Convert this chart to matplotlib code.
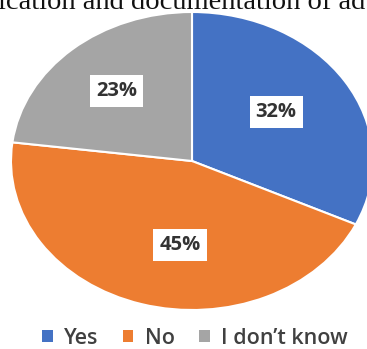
import numpy as np
import matplotlib
matplotlib.use("Agg")
import matplotlib.pyplot as plt
from matplotlib.patches import Patch

categories = ["Yes", "No", "I don\u2019t know"]
shares = [32, 45, 23]
colors = ["#4472C4", "#ED7D31", "#A5A5A5"]

W, H = 367, 349
fig = plt.figure(figsize=(W / 100, H / 100), dpi=100)

# caption line from the surrounding page, clipped at the top edge
fig.text(-2 / W, 1 - 9 / H, "ication and documentation of ad",
         family="Liberation Serif", fontsize=20.5, color="#111111",
         ha="left", va="baseline")

# elliptical pie: the axes box is wider than tall
ax = fig.add_axes([11 / W, 1 - 310 / H, 362 / W, 298 / H])
wedges, _ = ax.pie(shares, colors=colors, startangle=90, counterclock=False,
                   radius=1.0,
                   wedgeprops=dict(edgecolor="white", linewidth=1.5))
ax.set_aspect("auto")
ax.set_xlim(-1, 1)
ax.set_ylim(-1, 1)
ax.axis("off")

label_r = [0.57, 0.57, 0.63]
label_shift = [3, 9.5, 0]
for w, v, r, s in zip(wedges, shares, label_r, label_shift):
    mid = np.deg2rad((w.theta1 + w.theta2) / 2 + s)
    ax.text(r * np.cos(mid), r * np.sin(mid), f"{v}%",
            ha="center", va="center", family="Open Sans", weight="bold",
            fontsize=14.5, color="#333333",
            bbox=dict(boxstyle="square,pad=0.3", fc="white", ec="none"))

handles = [Patch(facecolor=c, edgecolor="none") for c in colors]
fig.legend(handles, categories, loc="center",
           bbox_to_anchor=(195 / W, 1 - 338.5 / H), ncol=3, frameon=False,
           prop=dict(family="Open Sans", size=15.5, weight="semibold"),
           labelcolor="#404040", handlelength=0.5, handleheight=0.5,
           handletextpad=0.55, columnspacing=1.1, borderpad=0)

fig.savefig("out.png", dpi=100)
